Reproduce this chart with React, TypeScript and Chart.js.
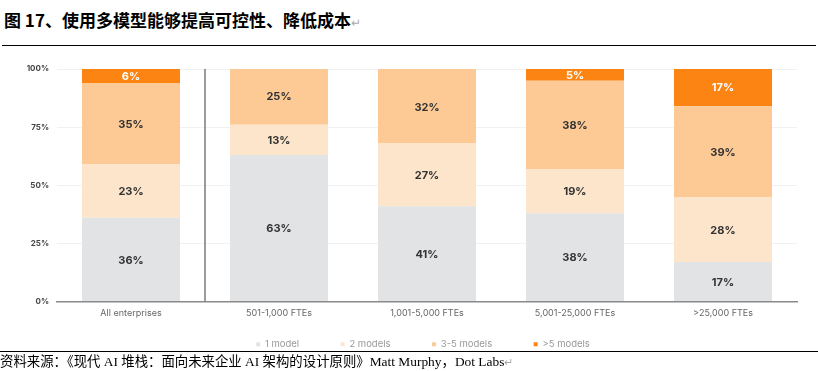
import React, { useEffect, useRef } from "react";
import { Chart, registerables } from "chart.js";

Chart.register(...registerables);

const categories = ["All enterprises", "501-1,000 FTEs", "1,001-5,000 FTEs", "5,001-25,000 FTEs", ">25,000 FTEs"];
const oneModel = [36, 63, 41, 38, 17];
const twoModels = [23, 13, 27, 19, 28];
const threeToFive = [35, 25, 32, 38, 39];
const moreThanFive = [6, 0, 0, 5, 17];
const seriesNames = ["1 model", "2 models", "3-5 models", ">5 models"];
const yTicks = [0, 25, 50, 75, 100];

const FONT = "Inter, 'Noto Sans', sans-serif";

const labelPlugin = {
  id: "barLabels",
  afterDatasetsDraw(chart: any) {
    const ctx = chart.ctx;
    ctx.save();
    ctx.font = `bold 11px ${FONT}`;
    ctx.textAlign = "center";
    ctx.textBaseline = "middle";
    chart.data.datasets.forEach((ds: any, di: number) => {
      const meta = chart.getDatasetMeta(di);
      meta.data.forEach((el: any, i: number) => {
        const v = ds.data[i];
        if (!v) return;
        const { x, y, base } = el.getProps(["x", "y", "base"], true);
        ctx.fillStyle = di === 3 ? "#ffffff" : "#333333";
        ctx.fillText(v + "%", x, (y + base) / 2 + 1);
      });
    });
    ctx.restore();
  },
};

const separatorPlugin = {
  id: "separator",
  afterDatasetsDraw(chart: any) {
    const xs = chart.scales.x;
    const area = chart.chartArea;
    const px = (xs.getPixelForValue(0) + xs.getPixelForValue(1)) / 2;
    const ctx = chart.ctx;
    ctx.save();
    ctx.strokeStyle = "#7a7a7a";
    ctx.lineWidth = 1.5;
    ctx.beginPath();
    ctx.moveTo(px, area.top);
    ctx.lineTo(px, area.bottom);
    ctx.stroke();
    ctx.restore();
  },
};

const legendShiftPlugin = {
  id: "legendShift",
  afterLayout(chart: any) {
    if (chart.legend) {
      chart.legend.left += 22;
      chart.legend.right += 22;
    }
  },
};

export default function App() {
  const ref = useRef<HTMLCanvasElement>(null);
  useEffect(() => {
    document.body.style.margin = "0";
    const colors = ["#e2e3e5", "#fde5cb", "#fdca96", "#fb8412"];
    const data = [oneModel, twoModels, threeToFive, moreThanFive];
    const chart = new Chart(ref.current!, {
      type: "bar",
      data: {
        labels: categories,
        datasets: seriesNames.map((n, i) => ({
          label: n,
          data: data[i],
          backgroundColor: colors[i],
          borderWidth: 0,
          barPercentage: 1,
          categoryPercentage: 0.662,
        })),
      },
      options: {
        animation: false,
        responsive: false,
        maintainAspectRatio: false,
        layout: { padding: { top: 14, left: 5, right: 21, bottom: 0 } },
        scales: {
          x: {
            stacked: true,
            grid: { display: false, drawTicks: false },
            border: { display: true, color: "#8a8a8a", width: 1.5 },
            ticks: { color: "#666", font: { size: 9, family: FONT }, padding: 6 },
            afterFit: (s: any) => { s.height = 25; },
          },
          y: {
            stacked: true,
            min: 0,
            max: 100,
            afterBuildTicks: (s: any) => { s.ticks = yTicks.map((v) => ({ value: v })); },
            grid: { color: "#f1f1f1", drawTicks: false },
            border: { display: false },
            ticks: {
              color: "#444",
              font: { size: 8, weight: "bold", family: FONT },
              padding: 8,
              callback: (v: any) => v + "%",
            },
            afterFit: (s: any) => { s.width = 52; },
          },
        },
        plugins: {
          legend: {
            position: "bottom",
            labels: {
              boxWidth: 4,
              boxHeight: 4,
              color: "#999",
              font: { size: 9.5, family: FONT },
              padding: 13,
              generateLabels: (chart: any) => {
                const items = Chart.defaults.plugins.legend.labels.generateLabels(chart);
                return items.map((l: any, i: number) => ({
                  ...l,
                  text: i < items.length - 1 ? l.text + "\u2003\u2003\u2003" : l.text,
                }));
              },
            },
          },
          tooltip: { enabled: false },
        },
      },
      plugins: [labelPlugin, separatorPlugin, legendShiftPlugin],
    });
    return () => chart.destroy();
  }, []);

  return (
    <div style={{ position: "relative", width: 818, height: 371, background: "#fff", overflow: "hidden" }}>
      <div
        style={{
          position: "absolute",
          left: 4,
          top: 9,
          fontSize: 17,
          fontWeight: 700,
          fontFamily: "'Noto Sans CJK SC', sans-serif",
          color: "#000",
          whiteSpace: "nowrap",
          lineHeight: "22px",
        }}
      >
        图 17、使用多模型能够提高可控性、降低成本<span style={{ color: "#aaa", fontWeight: 400, fontSize: 12 }}>↵</span>
      </div>
      <div style={{ position: "absolute", left: 2, top: 45, width: 814, height: 1, background: "#000" }} />
      <canvas ref={ref} width={818} height={304} style={{ position: "absolute", left: 0, top: 55 }} />
      <div style={{ position: "absolute", left: 0, top: 351, width: 818, height: 1, background: "#000" }} />
      <div
        style={{
          position: "absolute",
          left: 0,
          top: 353,
          fontSize: 13.4,
          fontFamily: "'Liberation Serif', 'Noto Sans CJK SC', serif",
          color: "#000",
          whiteSpace: "nowrap",
          lineHeight: "17px",
        }}
      >
        资料来源：《现代 AI 堆栈：面向未来企业 AI 架构的设计原则》Matt Murphy，Dot Labs<span style={{ color: "#aaa", fontSize: 11 }}>↵</span>
      </div>
    </div>
  );
}
